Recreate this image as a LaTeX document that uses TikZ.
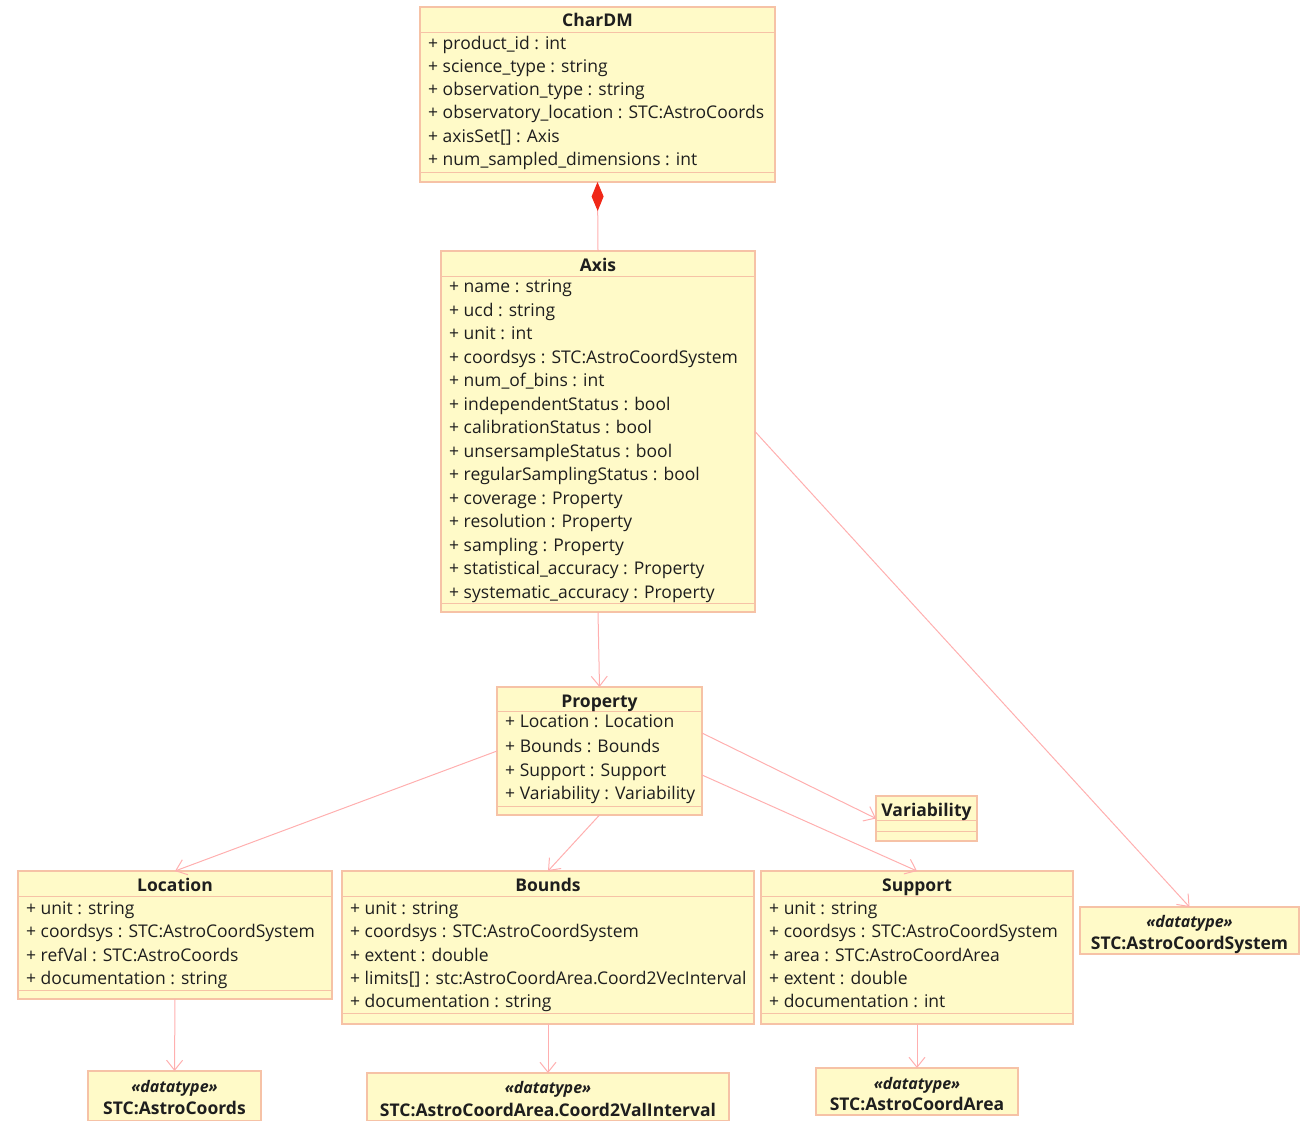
\documentclass[tikz,border=0pt]{standalone}
\usepackage{fontspec}
\setmainfont{Open Sans}
\usetikzlibrary{arrows.meta}
\definecolor{boxfill}{HTML}{FFFAC8}
\definecolor{boxline}{HTML}{F6C2A6}
\definecolor{connc}{HTML}{FFAFAF}
\definecolor{diam}{HTML}{F02818}
\definecolor{txt}{HTML}{1E1E1E}
\begin{document}
\begin{tikzpicture}[x=1pt,y=-1pt,
 classbox/.style={draw=boxline, fill=boxfill, line width=1.2pt, rectangle, anchor=north west, inner sep=0pt, outer sep=0pt},
 sepline/.style={draw=boxline, line width=1pt},
 attr/.style={anchor=west, inner sep=0pt, font=\fontsize{17.5}{20}\selectfont, text=txt, text height=14.5pt, text depth=2pt},
 ttl/.style={anchor=center, inner sep=0pt, font=\fontsize{17.5}{20}\selectfont\bfseries, text=txt, text height=14.5pt, text depth=2pt},
 stereo/.style={anchor=center, inner sep=0pt, font=\fontsize{16}{19}\selectfont\bfseries\itshape, text=txt, text height=14pt, text depth=2pt},
 conn/.style={draw=connc, line width=1pt, -{Straight Barb[length=10pt,width=16pt]}},
 comp/.style={draw=connc, line width=1pt, -{Diamond[length=29pt,width=12pt,color=diam,fill=diam]}}
]
\useasboundingbox (0,0) rectangle (1300,1120);

% CharDM
\node[classbox, minimum width=355pt, minimum height=175pt] (chardm) at (420,7) {};
\draw[sepline] (420,32) -- (775,32);
\draw[sepline] (420,172) -- (775,172);
\node[ttl] (chardmT) at (597.5,20) {CharDM};
\node[attr] (c1) at (428,43) {+ product\_id : int};
\node[attr] (c2) at (428,66) {+ science\_type : string};
\node[attr] (c3) at (428,89) {+ observation\_type : string};
\node[attr] (c4) at (428,112) {+ observatory\_location : STC:AstroCoords};
\node[attr] (c5) at (428,136) {+ axisSet[] : Axis};
\node[attr] (c6) at (428,159) {+ num\_sampled\_dimensions : int};

% Axis
\node[classbox, minimum width=314pt, minimum height=361pt] (axis) at (441,251) {};
\draw[sepline] (441,276) -- (755,276);
\draw[sepline] (441,603) -- (755,603);
\node[ttl] (axisT) at (598,265) {Axis};
\node[attr] (a1) at (449,286) {+ name : string};
\node[attr] (a2) at (449,310) {+ ucd : string};
\node[attr] (a3) at (449,333) {+ unit : int};
\node[attr] (a4) at (449,357) {+ coordsys : STC:AstroCoordSystem};
\node[attr] (a5) at (449,380) {+ num\_of\_bins : int};
\node[attr] (a6) at (449,404) {+ independentStatus : bool};
\node[attr] (a7) at (449,427) {+ calibrationStatus : bool};
\node[attr] (a8) at (449,451) {+ unsersampleStatus : bool};
\node[attr] (a9) at (449,474) {+ regularSamplingStatus : bool};
\node[attr] (a10) at (449,498) {+ coverage : Property};
\node[attr] (a11) at (449,521) {+ resolution : Property};
\node[attr] (a12) at (449,545) {+ sampling : Property};
\node[attr] (a13) at (449,568) {+ statistical\_accuracy : Property};
\node[attr] (a14) at (449,592) {+ systematic\_accuracy : Property};

% Property
\node[classbox, minimum width=205pt, minimum height=128pt] (prop) at (497,687) {};
\draw[sepline] (497,711) -- (702,711);
\draw[sepline] (497,806) -- (702,806);
\node[ttl] (propT) at (599.5,701) {Property};
\node[attr] (p1) at (505,721) {+ Location : Location};
\node[attr] (p2) at (505,746) {+ Bounds : Bounds};
\node[attr] (p3) at (505,770) {+ Support : Support};
\node[attr] (p4) at (505,793) {+ Variability : Variability};

% Variability
\node[classbox, minimum width=101pt, minimum height=45pt] (var) at (876,796) {};
\draw[sepline] (876,820) -- (977,820);
\draw[sepline] (876,831) -- (977,831);
\node[ttl] (varT) at (926.5,810) {Variability};

% Location
\node[classbox, minimum width=314pt, minimum height=128pt] (loc) at (18,871) {};
\draw[sepline] (18,896) -- (332,896);
\draw[sepline] (18,990) -- (332,990);
\node[ttl] (locT) at (175,885) {Location};
\node[attr] (l1) at (26,908) {+ unit : string};
\node[attr] (l2) at (26,931) {+ coordsys : STC:AstroCoordSystem};
\node[attr] (l3) at (26,955) {+ refVal : STC:AstroCoords};
\node[attr] (l4) at (26,978) {+ documentation : string};

% Bounds
\node[classbox, minimum width=412pt, minimum height=153pt] (bounds) at (342,871) {};
\draw[sepline] (342,896) -- (754,896);
\draw[sepline] (342,1013) -- (754,1013);
\node[ttl] (boundsT) at (548,885) {Bounds};
\node[attr] (b1) at (350,908) {+ unit : string};
\node[attr] (b2) at (350,931) {+ coordsys : STC:AstroCoordSystem};
\node[attr] (b3) at (350,955) {+ extent : double};
\node[attr] (b4) at (350,978) {+ limits[] : stc:AstroCoordArea.Coord2VecInterval};
\node[attr] (b5) at (350,1001) {+ documentation : string};

% Support
\node[classbox, minimum width=312pt, minimum height=153pt] (support) at (761,871) {};
\draw[sepline] (761,896) -- (1073,896);
\draw[sepline] (761,1013) -- (1073,1013);
\node[ttl] (supportT) at (917,885) {Support};
\node[attr] (s1) at (769,908) {+ unit : string};
\node[attr] (s2) at (769,931) {+ coordsys : STC:AstroCoordSystem};
\node[attr] (s3) at (769,955) {+ area : STC:AstroCoordArea};
\node[attr] (s4) at (769,978) {+ extent : double};
\node[attr] (s5) at (769,1001) {+ documentation : int};

% datatypes
\node[classbox, minimum width=219pt, minimum height=47pt] (acs) at (1080,907) {};
\node[stereo] (acsS) at (1189.5,921) {«datatype»};
\node[ttl] (acsT) at (1189.5,943) {STC:AstroCoordSystem};

\node[classbox, minimum width=173pt, minimum height=50pt] (acoords) at (88,1071) {};
\node[stereo] (acoordsS) at (174.5,1086) {«datatype»};
\node[ttl] (acoordsT) at (174.5,1108) {STC:AstroCoords};

\node[classbox, minimum width=362pt, minimum height=48pt] (c2v) at (367,1073) {};
\node[stereo] (c2vS) at (548,1087) {«datatype»};
\node[ttl] (c2vT) at (548,1110) {STC:AstroCoordArea.Coord2ValInterval};

\node[classbox, minimum width=202pt, minimum height=47pt] (aca) at (816,1068) {};
\node[stereo] (acaS) at (917,1083) {«datatype»};
\node[ttl] (acaT) at (917,1104) {STC:AstroCoordArea};

% connectors
\draw[comp] (axis.north) -- (chardm.south);
\draw[conn] (axis.south) -- (prop.north);
\draw[conn] (prop.west) -- (loc.north);
\draw[conn] (prop.south) -- (bounds.north);
\draw[conn] ([yshift=18pt]prop.east) -- (var.west);
\draw[conn] ([yshift=-24pt]prop.east) -- (support.north);
\draw[conn] (axis.east) -- (acs.north);
\draw[conn] (loc.south) -- (acoords.north);
\draw[conn] (bounds.south) -- (c2v.north);
\draw[conn] (support.south) -- (aca.north);
\end{tikzpicture}
\end{document}
